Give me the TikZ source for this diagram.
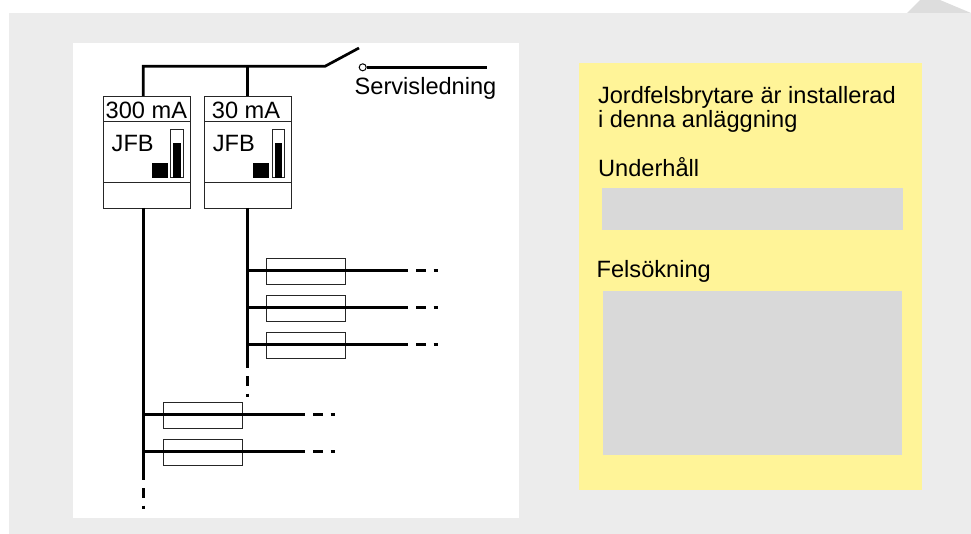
\documentclass[tikz,border=0pt]{standalone}
\usepackage{fontspec}
\setmainfont{Liberation Sans}
\definecolor{bgg}{HTML}{ECECEC}
\definecolor{corner}{HTML}{DDDDDD}
\definecolor{yel}{HTML}{FFF498}
\definecolor{panel}{HTML}{D9D9D9}
\tikzset{
 wire/.style={line width=2.7pt,black},
 dashwire/.style={wire,dash pattern=on 10pt off 7.5pt on 4.5pt off 100pt},
 thin box/.style={draw=black!85,line width=1pt},
 lbl/.style={inner sep=0pt,anchor=base west,font=\fontsize{23.6}{23.6}\selectfont},
}
\begin{document}
\begin{tikzpicture}[x=1pt,y=-1pt]
\useasboundingbox (0,0) rectangle (971,534);
\fill[bgg] (9,13) rectangle (971,534);
\fill[corner] (907,13) -- (920,0) -- (940,0) -- (971,13) -- cycle;
\fill[white] (73,43) rectangle (519,518);
\fill[yel] (579.3,63.5) rectangle (921.7,489.5);
\fill[panel] (602,188.3) rectangle (903.3,230);
\fill[panel] (603,291) rectangle (902,455);
\node[lbl] (t1) at (597.8,103.5) {Jordfelsbrytare är installerad};
\node[lbl] (t2) at (597.8,128) {i denna anläggning};
\node[lbl] (t3) at (598,176.5) {Underhåll};
\node[lbl] (t4) at (596.5,277.5) {Felsökning};
% wires
\coordinate (a) at (143.3,66.3);
\coordinate (b) at (247.3,66.3);
\coordinate (c) at (325,66.3);
\coordinate (d) at (359,48);
\draw[wire,line join=miter] (143.3,96) -- (a) -- (c) -- (d);
\draw[wire] (b) -- (247.3,96);
\node[draw=black,line width=1pt,circle,inner sep=0pt,minimum size=7pt] (o) at (362.7,67.3) {};
\coordinate (oe) at (486.7,67.3);
\draw[wire] (o) -- (oe);
\node[lbl] (s) at (354.5,94.5) {Servisledning};
\foreach \x/\n/\t/\d in {103/A/300 mA/2.5,204.2/B/30 mA/7.5}{
 \node[thin box,minimum width=87pt,minimum height=112.3pt,inner sep=0pt,anchor=north west] (\n) at (\x,95.8) {};
 \draw[thin box] (\x,121.8) -- (\x+87,121.8);
 \draw[thin box] (\x,183) -- (\x+87,183);
 \node[lbl] (lab\n) at (\x+\d,119) {\t};
 \node[lbl] (jfb\n) at (\x+8.5,151.3) {JFB};
 \fill (\x+49,163) rectangle (\x+65,178);
 \draw[thin box] (\x+67.8,129.5) rectangle (\x+80.3,178);
 \fill (\x+70.3,143.3) rectangle (\x+78,178);
}
\draw[wire] (143.3,208) -- (143.3,480);
\draw[dashwire] (143.3,488) -- (143.3,509);
\draw[wire] (247.3,208) -- (247.3,368);
\draw[dashwire] (247.3,376) -- (247.3,397);
\foreach \y in {270.3,307.3,344.3}{
 \node[thin box,minimum width=79pt,minimum height=25.3pt,inner sep=0pt] (f\y) at (305.5,\y+1.3) {};
 \draw[wire] (247.3,\y) -- (408,\y);
 \draw[dashwire] (416,\y) -- (438,\y);
}
\foreach \y in {414.3,451.3}{
 \node[thin box,minimum width=79pt,minimum height=25.3pt,inner sep=0pt] (g\y) at (202.5,\y+1.3) {};
 \draw[wire] (143.3,\y) -- (305,\y);
 \draw[dashwire] (313,\y) -- (335,\y);
}
\end{tikzpicture}
\end{document}
